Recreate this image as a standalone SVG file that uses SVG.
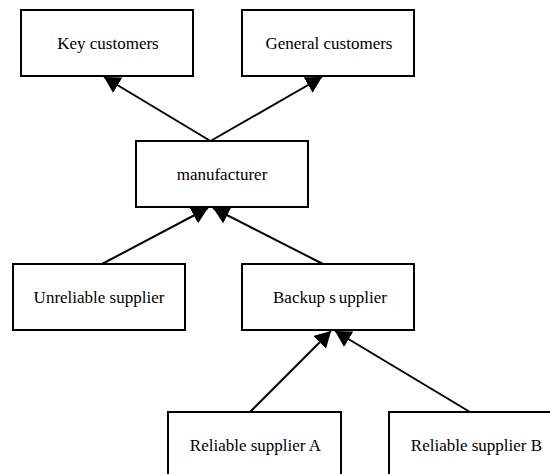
<svg xmlns="http://www.w3.org/2000/svg" width="550" height="474" viewBox="0 0 550 474">
<defs>
<marker id="ah" viewBox="0 0 16 18" refX="16" refY="9" markerWidth="16" markerHeight="18" markerUnits="userSpaceOnUse" orient="auto">
<path d="M0,0 L16,9 L0,18 z" fill="#000"/>
</marker>
<style>
.box{fill:#fff;stroke:#000;stroke-width:2}
.lbl{font-family:"Liberation Serif","Times New Roman",serif;font-size:17px;fill:#000;text-anchor:middle}
.edge{stroke:#000;stroke-width:2;fill:none;marker-end:url(#ah)}
</style>
</defs>
<rect width="550" height="474" fill="#fff"/>
<g id="key-customers"><rect class="box" x="21" y="10" width="172" height="66"/><text class="lbl" x="108" y="49">Key customers</text></g>
<g id="general-customers"><rect class="box" x="242" y="10" width="172" height="66"/><text class="lbl" x="329" y="49">General customers</text></g>
<g id="manufacturer"><rect class="box" x="136" y="141" width="172" height="66"/><text class="lbl" x="222" y="180">manufacturer</text></g>
<g id="unreliable-supplier"><rect class="box" x="13" y="264" width="172" height="66"/><text class="lbl" x="99" y="303">Unreliable supplier</text></g>
<g id="backup-supplier"><rect class="box" x="242" y="264" width="172" height="66"/><text class="lbl" x="330" y="303">Backup s<tspan dx="3">upplier</tspan></text></g>
<g id="reliable-supplier-a"><rect class="box" x="168" y="412" width="173" height="66"/><text class="lbl" x="255.5" y="451">Reliable supplier A</text></g>
<g id="reliable-supplier-b"><rect class="box" x="389" y="412" width="172" height="66"/><text class="lbl" x="476.5" y="451">Reliable supplier B</text></g>
<g id="connectors">
<line class="edge" x1="210.5" y1="141" x2="104" y2="77"/>
<line class="edge" x1="210.5" y1="141" x2="322" y2="77"/>
<line class="edge" x1="102" y1="264" x2="208" y2="208"/>
<line class="edge" x1="323" y1="264" x2="213" y2="208"/>
<line class="edge" x1="250" y1="412" x2="331" y2="331"/>
<line class="edge" x1="470" y1="412" x2="335" y2="331"/>
</g>
</svg>
